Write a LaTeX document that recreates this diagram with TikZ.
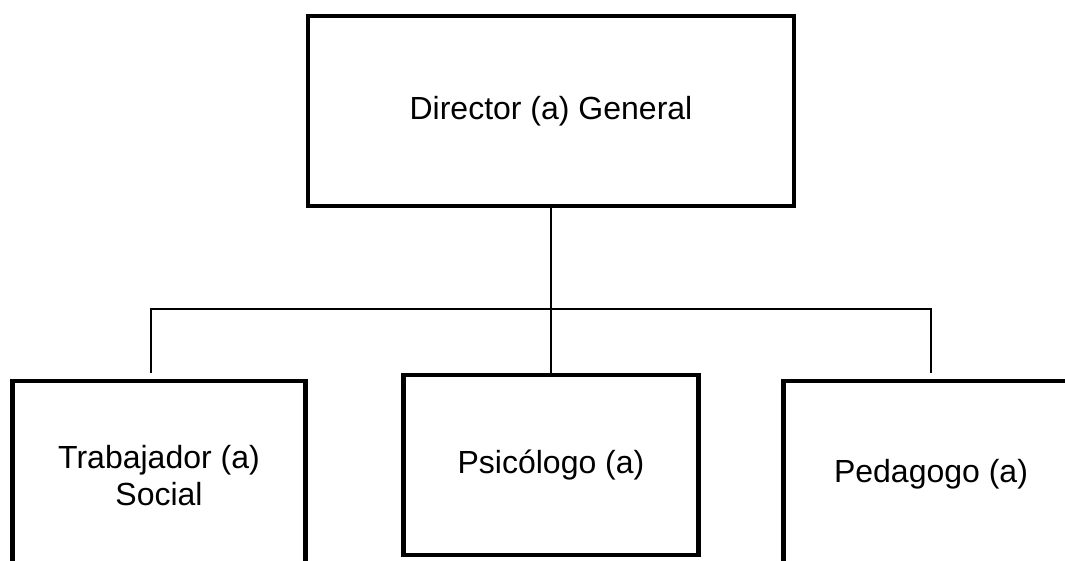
\documentclass[tikz,border=0pt]{standalone}
\usepackage{fontspec}
\setmainfont{Liberation Sans}
\usepackage{xcolor}

\begin{document}
\begin{tikzpicture}[x=1pt, y=-1pt]
        % ================= 样式定义 =================
        \tikzset{
            % 职位方框:白底粗黑边
            cargo/.style={rectangle, draw=black, line width=4.5pt, fill=white, inner sep=0pt,
                align=center, font=\fontsize{32}{37}\selectfont},
            % 细黑连线
            conn/.style={line width=1.5pt, black}
        }

        % 画布范围 (两侧方框被裁切)
        \useasboundingbox (0,0) rectangle (1065,560);
        \clip (0,0) rectangle (1065,560);

        % ================= 上层:主任 =================
        \node[cargo, minimum width=486pt, minimum height=190pt] (director) at (551,111) {Director (a) General};

        % ================= 下层:三个职位 =================
        \node[cargo, minimum width=293pt, minimum height=190pt] (trabajador) at (159,476) {Trabajador (a)\\Social};
        \node[cargo, minimum width=295pt, minimum height=180pt] (psicologo) at (551,465) {Psicólogo (a)};
        \node[cargo, minimum width=295pt, minimum height=186pt] (pedagogo) at (931,474) {Pedagogo (a)};

        % 连线的辅助点
        \coordinate (barC) at (551,309);
        \coordinate (stubL) at (151,373);
        \coordinate (stubR) at (931,373);

        % 主干与分支
        \draw[conn] (director.south) -- (psicologo.north);
        \draw[conn] (stubL) |- (barC) -| (stubR);

    \end{tikzpicture}
\end{document}
